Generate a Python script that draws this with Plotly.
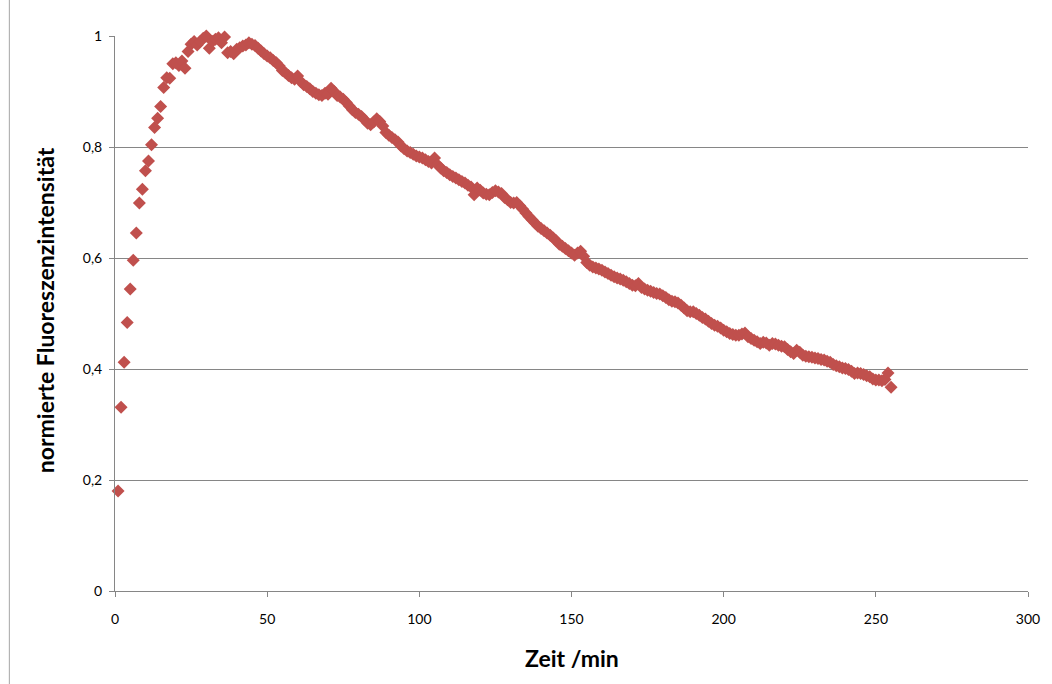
import plotly.graph_objects as go

# Zeitpunkte der Messung in Minuten
zeit_min = [
    1, 2, 3, 4, 5, 6, 7, 8, 9, 10, 11, 12, 13, 14, 15, 16, 17, 18, 19, 20,
    21, 22, 23, 24, 25, 26, 27, 28, 29, 30, 31, 32, 33, 34, 35, 36, 37, 38, 39, 40,
    41, 42, 43, 44, 45, 46, 47, 48, 49, 50, 51, 52, 53, 54, 55, 56, 57, 58, 59, 60,
    61, 62, 63, 64, 65, 66, 67, 68, 69, 70, 71, 72, 73, 74, 75, 76, 77, 78, 79, 80,
    81, 82, 83, 84, 85, 86, 87, 88, 89, 90, 91, 92, 93, 94, 95, 96, 97, 98, 99, 100,
    101, 102, 103, 104, 105, 106, 107, 108, 109, 110, 111, 112, 113, 114, 115, 116, 117, 118, 119, 120,
    121, 122, 123, 124, 125, 126, 127, 128, 129, 130, 131, 132, 133, 134, 135, 136, 137, 138, 139, 140,
    141, 142, 143, 144, 145, 146, 147, 148, 149, 150, 151, 152, 153, 154, 155, 156, 157, 158, 159, 160,
    161, 162, 163, 164, 165, 166, 167, 168, 169, 170, 171, 172, 173, 174, 175, 176, 177, 178, 179, 180,
    181, 182, 183, 184, 185, 186, 187, 188, 189, 190, 191, 192, 193, 194, 195, 196, 197, 198, 199, 200,
    201, 202, 203, 204, 205, 206, 207, 208, 209, 210, 211, 212, 213, 214, 215, 216, 217, 218, 219, 220,
    221, 222, 223, 224, 225, 226, 227, 228, 229, 230, 231, 232, 233, 234, 235, 236, 237, 238, 239, 240,
    241, 242, 243, 244, 245, 246, 247, 248, 249, 250, 251, 252, 253, 254, 255,
]

# normierte Fluoreszenzintensität je Zeitpunkt
intensitaet = [
    0.180, 0.331, 0.412, 0.484, 0.544, 0.596, 0.645, 0.699, 0.724, 0.757,
    0.775, 0.804, 0.835, 0.852, 0.873, 0.907, 0.925, 0.924, 0.950, 0.952,
    0.947, 0.955, 0.942, 0.972, 0.985, 0.990, 0.984, 0.990, 0.996, 1.000,
    0.978, 0.990, 0.994, 0.997, 0.988, 0.998, 0.970, 0.972, 0.968, 0.976,
    0.979, 0.982, 0.984, 0.988, 0.985, 0.983, 0.978, 0.973, 0.968, 0.964,
    0.961, 0.956, 0.952, 0.946, 0.938, 0.934, 0.929, 0.925, 0.922, 0.928,
    0.918, 0.912, 0.909, 0.905, 0.900, 0.897, 0.894, 0.893, 0.897, 0.895,
    0.906, 0.900, 0.893, 0.890, 0.886, 0.880, 0.874, 0.867, 0.862, 0.859,
    0.855, 0.849, 0.843, 0.840, 0.845, 0.851, 0.846, 0.838, 0.826, 0.821,
    0.817, 0.813, 0.809, 0.802, 0.797, 0.793, 0.790, 0.787, 0.784, 0.782,
    0.780, 0.777, 0.774, 0.771, 0.780, 0.768, 0.762, 0.757, 0.754, 0.750,
    0.747, 0.744, 0.741, 0.738, 0.735, 0.731, 0.728, 0.714, 0.726, 0.722,
    0.717, 0.715, 0.714, 0.718, 0.721, 0.719, 0.716, 0.709, 0.705, 0.700,
    0.699, 0.700, 0.694, 0.688, 0.681, 0.675, 0.669, 0.663, 0.657, 0.653,
    0.649, 0.645, 0.641, 0.636, 0.631, 0.625, 0.621, 0.617, 0.613, 0.609,
    0.605, 0.609, 0.612, 0.603, 0.592, 0.587, 0.584, 0.582, 0.580, 0.578,
    0.575, 0.572, 0.569, 0.566, 0.564, 0.562, 0.560, 0.557, 0.554, 0.551,
    0.550, 0.554, 0.547, 0.544, 0.542, 0.540, 0.538, 0.536, 0.535, 0.532,
    0.529, 0.525, 0.522, 0.521, 0.519, 0.515, 0.510, 0.505, 0.503, 0.503,
    0.500, 0.497, 0.493, 0.490, 0.486, 0.482, 0.479, 0.477, 0.474, 0.470,
    0.467, 0.464, 0.462, 0.461, 0.461, 0.463, 0.465, 0.458, 0.455, 0.452,
    0.449, 0.446, 0.448, 0.447, 0.443, 0.446, 0.445, 0.443, 0.441, 0.440,
    0.435, 0.431, 0.428, 0.434, 0.430, 0.425, 0.423, 0.422, 0.421, 0.420,
    0.419, 0.417, 0.416, 0.414, 0.412, 0.408, 0.406, 0.404, 0.402, 0.401,
    0.399, 0.396, 0.392, 0.393, 0.392, 0.390, 0.388, 0.386, 0.382, 0.380,
    0.380, 0.379, 0.381, 0.393, 0.367,
]

x_ticks = [0, 50, 100, 150, 200, 250, 300]
y_ticks = [0, 0.2, 0.4, 0.6, 0.8, 1.0]
y_tick_labels = ["0", "0,2", "0,4", "0,6", "0,8", "1"]

x_title = "Zeit /min"
y_title = "normierte Fluoreszenzintensität"

W, H = 1052, 684
M_L, M_R, M_T, M_B = 115, 21, 36, 93

axis_grey = "#868686"
font_family = "Lato, 'Open Sans', sans-serif"

fig = go.Figure(
    go.Scatter(
        x=zeit_min,
        y=intensitaet,
        mode="markers",
        marker=dict(symbol="diamond", size=10, color="#C0504D",
                    line=dict(width=0)),
        cliponaxis=False,
    )
)

fig.update_xaxes(
    range=[0, 300],
    tickvals=x_ticks,
    ticks="outside", ticklen=5, tickwidth=1, tickcolor=axis_grey,
    ticklabelstandoff=10,
    showline=True, linecolor=axis_grey, linewidth=1,
    showgrid=False, zeroline=False,
    tickfont=dict(family=font_family, size=14, color="#000000"),
)
fig.update_yaxes(
    range=[0, 1],
    tickvals=y_ticks,
    ticktext=y_tick_labels,
    ticks="outside", ticklen=5, tickwidth=1, tickcolor=axis_grey,
    ticklabelstandoff=4,
    showline=True, linecolor=axis_grey, linewidth=1,
    showgrid=True, gridcolor=axis_grey, gridwidth=1,
    zeroline=False,
    tickfont=dict(family=font_family, size=14, color="#000000"),
)

# Achsentitel
fig.add_annotation(
    text=f"<b>{x_title}</b>", xref="paper", yref="paper",
    x=(573 - M_L) / (W - M_L - M_R), y=-(658 - (H - M_B)) / (H - M_T - M_B),
    xanchor="center", yanchor="middle", showarrow=False,
    font=dict(family=font_family, size=23, color="#000000"),
)
fig.add_annotation(
    text=f"<b>{y_title}</b>", xref="paper", yref="paper",
    x=-(M_L - 45) / (W - M_L - M_R), y=(H - M_B - 310) / (H - M_T - M_B),
    xanchor="center", yanchor="middle", textangle=-90, showarrow=False,
    font=dict(family=font_family, size=23, color="#000000"),
)

# Rahmen des Diagrammbereichs (linke Kante)
fig.add_shape(
    type="line", xref="paper", yref="paper",
    x0=-(M_L - 9) / (W - M_L - M_R), x1=-(M_L - 9) / (W - M_L - M_R),
    y0=-M_B / (H - M_T - M_B), y1=1 + M_T / (H - M_T - M_B),
    line=dict(color="#a6a6a6", width=1),
)

fig.update_layout(
    width=W, height=H,
    margin=dict(l=M_L, r=M_R, t=M_T, b=M_B),
    paper_bgcolor="white", plot_bgcolor="white",
    showlegend=False,
    separators=",.",
)

fig.write_html("out.html")
